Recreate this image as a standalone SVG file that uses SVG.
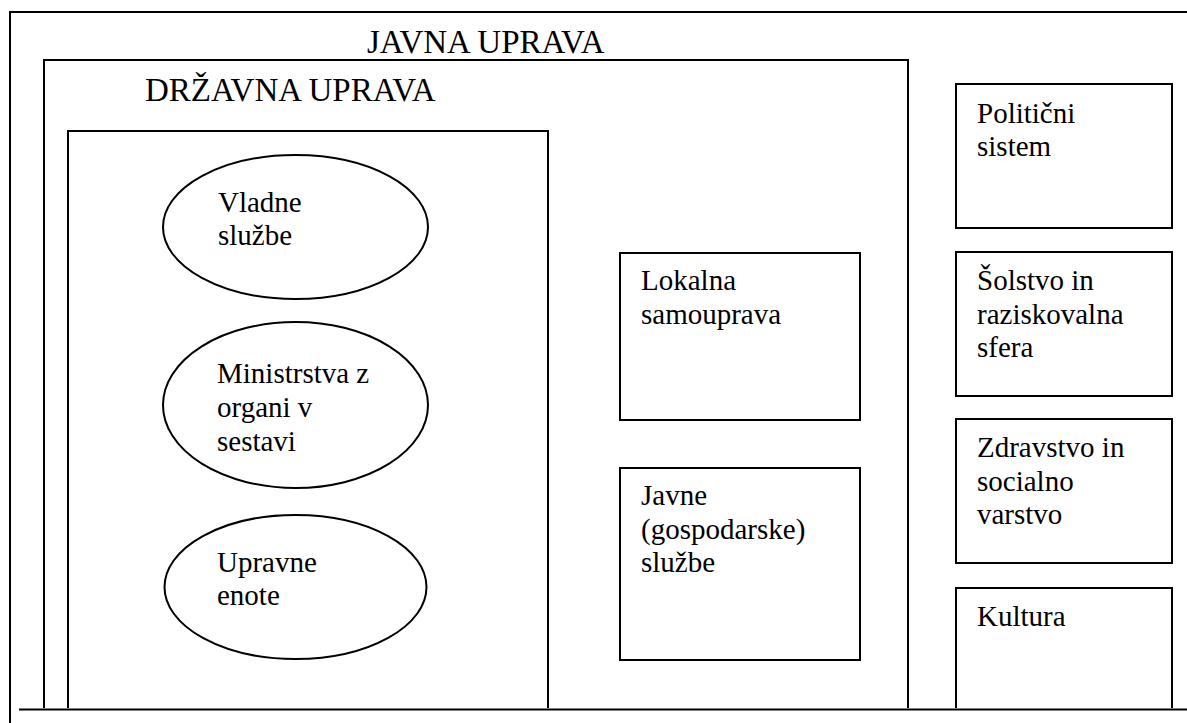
<svg xmlns="http://www.w3.org/2000/svg" width="1187" height="723" viewBox="0 0 1187 723">
<style>
.b{fill:#fff;stroke:#000;stroke-width:2}
.n{fill:none;stroke:#000;stroke-width:2}
</style>
<rect width="1187" height="723" fill="#fff"/>
<g font-family="Liberation Serif, Times New Roman, serif" fill="#000" font-size="29">
<g id="javna-uprava">
<path class="n" d="M10 723 V12 H1187"/>
<text x="367" y="53" font-size="33">JAVNA UPRAVA</text>
</g>
<g id="drzavna-uprava">
<path class="n" d="M44 708 V60 H908 V708"/>
<text x="145" y="101" font-size="33">DRŽAVNA UPRAVA</text>
</g>
<g id="inner">
<path class="n" d="M68 708 V131 H548 V708"/>
</g>
<g id="vladne-sluzbe">
<ellipse class="b" cx="295.5" cy="227" rx="132.5" ry="72"/>
<text x="218" y="212">Vladne</text>
<text x="218" y="245">službe</text>
</g>
<g id="ministrstva">
<ellipse class="b" cx="295.5" cy="405" rx="132.5" ry="83"/>
<text x="217" y="383">Ministrstva z</text>
<text x="217" y="417">organi v</text>
<text x="217" y="451">sestavi</text>
</g>
<g id="upravne-enote">
<ellipse class="b" cx="295.5" cy="587" rx="131" ry="72"/>
<text x="217" y="572">Upravne</text>
<text x="217" y="605">enote</text>
</g>
<g id="lokalna-samouprava">
<rect class="b" x="620" y="253" width="240" height="167"/>
<text x="641" y="290">Lokalna</text>
<text x="641" y="324">samouprava</text>
</g>
<g id="javne-sluzbe">
<rect class="b" x="620" y="468" width="240" height="192"/>
<text x="641" y="505">Javne</text>
<text x="641" y="539">(gospodarske)</text>
<text x="641" y="572">službe</text>
</g>
<g id="politicni-sistem">
<rect class="b" x="956" y="84" width="216" height="144"/>
<text x="977" y="123">Politični</text>
<text x="977" y="156">sistem</text>
</g>
<g id="solstvo">
<rect class="b" x="956" y="252" width="216" height="144"/>
<text x="977" y="290">Šolstvo in</text>
<text x="977" y="324">raziskovalna</text>
<text x="977" y="357">sfera</text>
</g>
<g id="zdravstvo">
<rect class="b" x="956" y="419" width="216" height="144"/>
<text x="977" y="457">Zdravstvo in</text>
<text x="977" y="491">socialno</text>
<text x="977" y="524">varstvo</text>
</g>
<g id="kultura">
<path class="n" d="M956 708 V588 H1172 V708"/>
<text x="977" y="626">Kultura</text>
</g>
</g>
<g id="connectors">
<line class="n" x1="19" y1="709.5" x2="1187" y2="709.5"/>
</g>
</svg>
